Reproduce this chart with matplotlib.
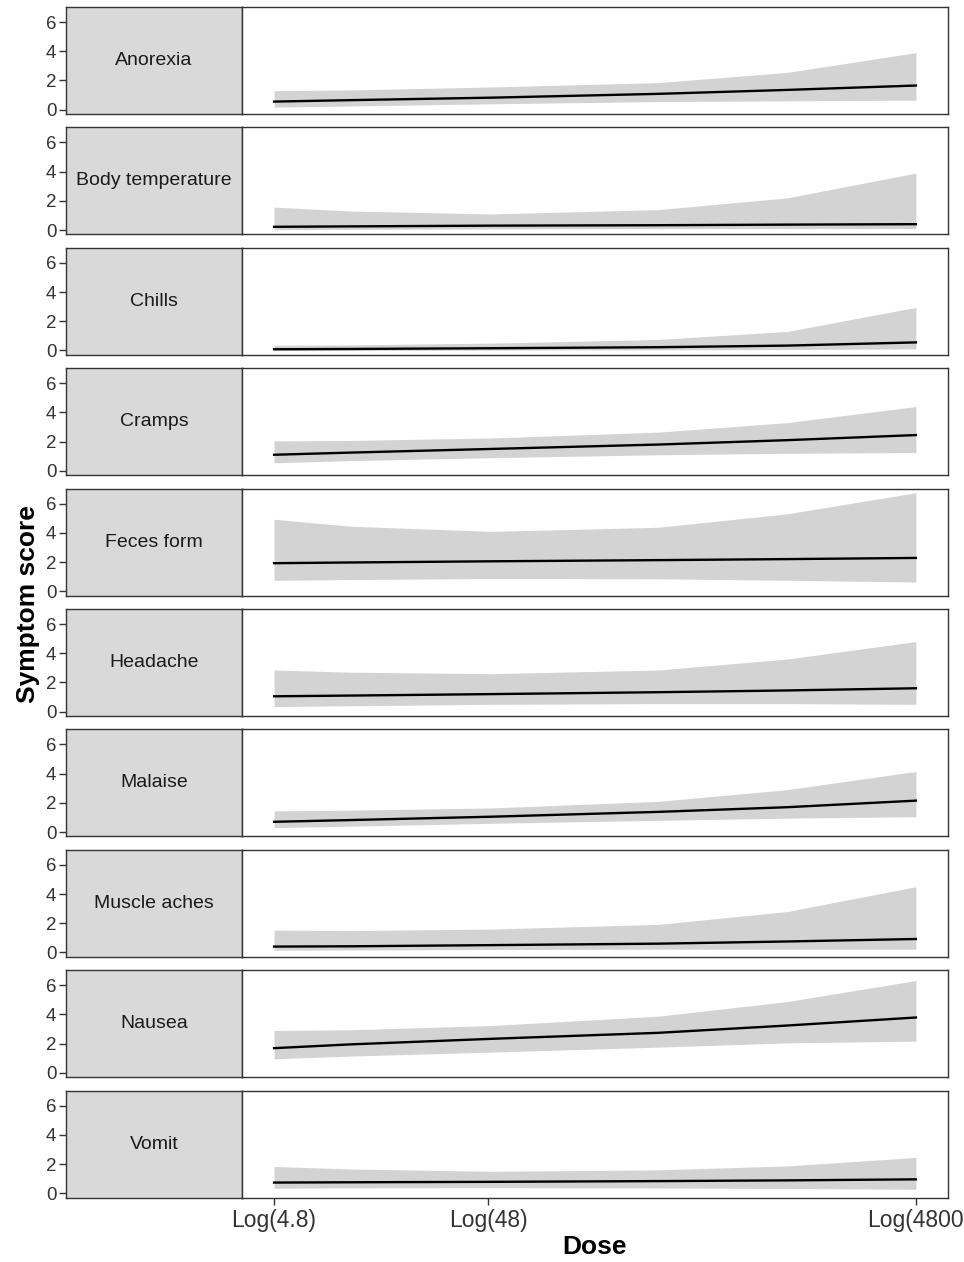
import matplotlib
matplotlib.use("Agg")
import matplotlib.pyplot as plt
import numpy as np

plt.rcParams['font.family'] = ['Liberation Sans', 'DejaVu Sans']

symptoms = ["Anorexia", "Body temperature", "Chills", "Cramps", "Feces form",
            "Headache", "Malaise", "Muscle aches", "Nausea", "Vomit"]
dose = [4.8, 11, 50, 300, 1200, 4800]

fit = {
    "Anorexia":         [0.55, 0.65, 0.82, 1.08, 1.35, 1.65],
    "Body temperature": [0.22, 0.25, 0.30, 0.33, 0.37, 0.40],
    "Chills":           [0.08, 0.10, 0.15, 0.22, 0.33, 0.55],
    "Cramps":           [1.10, 1.25, 1.50, 1.80, 2.10, 2.45],
    "Feces form":       [1.92, 1.97, 2.05, 2.13, 2.20, 2.28],
    "Headache":         [1.05, 1.10, 1.20, 1.33, 1.45, 1.60],
    "Malaise":          [0.70, 0.82, 1.05, 1.38, 1.70, 2.15],
    "Muscle aches":     [0.40, 0.42, 0.50, 0.60, 0.75, 0.92],
    "Nausea":           [1.69, 1.95, 2.33, 2.74, 3.24, 3.79],
    "Vomit":            [0.73, 0.75, 0.78, 0.83, 0.88, 0.95],
}
lower = {
    "Anorexia":         [0.17, 0.25, 0.40, 0.55, 0.60, 0.65],
    "Body temperature": [0.02, 0.05, 0.08, 0.10, 0.10, 0.10],
    "Chills":           [0.00, 0.00, 0.02, 0.04, 0.06, 0.10],
    "Cramps":           [0.55, 0.70, 0.90, 1.10, 1.20, 1.25],
    "Feces form":       [0.75, 0.80, 0.87, 0.85, 0.75, 0.63],
    "Headache":         [0.35, 0.40, 0.50, 0.55, 0.55, 0.50],
    "Malaise":          [0.30, 0.40, 0.60, 0.80, 0.95, 1.05],
    "Muscle aches":     [0.15, 0.17, 0.20, 0.22, 0.22, 0.22],
    "Nausea":           [0.96, 1.15, 1.42, 1.76, 2.05, 2.17],
    "Vomit":            [0.34, 0.37, 0.38, 0.36, 0.32, 0.27],
}
upper = {
    "Anorexia":         [1.30, 1.35, 1.55, 1.85, 2.55, 3.90],
    "Body temperature": [1.57, 1.30, 1.10, 1.40, 2.20, 3.90],
    "Chills":           [0.35, 0.38, 0.50, 0.75, 1.30, 2.95],
    "Cramps":           [2.05, 2.08, 2.25, 2.65, 3.30, 4.40],
    "Feces form":       [4.93, 4.45, 4.10, 4.38, 5.30, 6.75],
    "Headache":         [2.85, 2.70, 2.60, 2.85, 3.60, 4.80],
    "Malaise":          [1.45, 1.50, 1.65, 2.10, 2.90, 4.15],
    "Muscle aches":     [1.53, 1.50, 1.60, 1.92, 2.80, 4.50],
    "Nausea":           [2.90, 2.95, 3.24, 3.88, 4.88, 6.32],
    "Vomit":            [1.83, 1.66, 1.50, 1.60, 1.87, 2.45],
}

x_ticks = [4.8, 48, 4800]
x_ticklabels = ["Log(4.8)", "Log(48)", "Log(4800"]
y_ticks = [0, 2, 4, 6]

W, H = 964, 1262
fig = plt.figure(figsize=(W / 100, H / 100), dpi=100)

spine_col = "#333333"
strip_l, strip_r, right = 66, 242, 948
top0, pitch, ph = 7, 120.4, 107

lx0 = np.log10(4.8) - 0.15
lx1 = np.log10(4800) + 0.15

for i, s in enumerate(symptoms):
    top = top0 + i * pitch
    b = 1 - (top + ph) / H
    h = ph / H
    ax_s = fig.add_axes([strip_l / W, b, (strip_r - strip_l) / W, h])
    ax = fig.add_axes([strip_r / W, b, (right - strip_r) / W, h], sharey=ax_s)

    ax_s.set_facecolor("#D9D9D9")
    ax_s.set_xticks([])
    ax_s.text(0.5, 0.5, s, transform=ax_s.transAxes, ha="center", va="center",
              fontsize=14, color="#1A1A1A")
    ax_s.set_yticks(y_ticks)
    ax_s.tick_params(axis="y", labelsize=13.5, length=5, width=1, color=spine_col,
                     labelcolor="#333333", pad=2)

    ax.fill_between(dose, lower[s], upper[s], color="#D3D3D3", lw=0)
    ax.plot(dose, fit[s], color="black", lw=1.7)
    ax.set_xscale("log")
    ax.set_xlim(10 ** lx0, 10 ** lx1)
    ax.set_ylim(-0.3, 7.03)
    ax.tick_params(axis="y", left=False, labelleft=False)
    ax.minorticks_off()
    ax.set_xticks(x_ticks)
    if i == len(symptoms) - 1:
        ax.set_xticklabels(x_ticklabels)
        ax.tick_params(axis="x", labelsize=16.5, length=5, width=1, color=spine_col,
                       labelcolor="#333333", pad=3)
    else:
        ax.tick_params(axis="x", bottom=False, labelbottom=False)

    for a in (ax, ax_s):
        for sp in a.spines.values():
            sp.set_color(spine_col)
            sp.set_linewidth(1.0)

fig.text(28 / W, 1 - 604 / H, "Symptom score", rotation=90, ha="center", va="center",
         fontsize=19, fontweight="bold")
fig.text(595 / W, 1 - 1247 / H, "Dose", ha="center", va="center",
         fontsize=19, fontweight="bold")

fig.savefig("out.png", dpi=100)
